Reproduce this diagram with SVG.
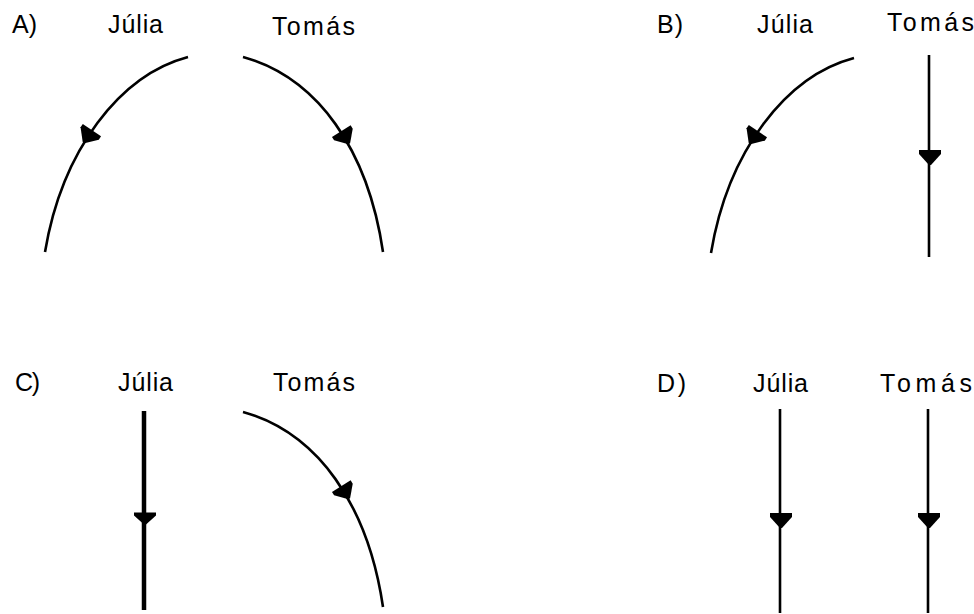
<svg xmlns="http://www.w3.org/2000/svg" xmlns:xlink="http://www.w3.org/1999/xlink" width="974" height="614" viewBox="0 0 974 614">
  <style>
    text { font-family: "Liberation Sans", Arial, sans-serif; font-size: 25px; fill: #000; }
    .path { fill: none; stroke: #000; stroke-width: 2.6; stroke-linecap: butt; }
    .thick { stroke-width: 4.5; }
    .head { fill: #000; stroke: none; }
  </style>
  <defs>
    <!-- downward-pointing arrowhead, centred on the trajectory point -->
    <path id="ah" d="M-11,-7 H11 V-3 L1,8 H-1 L-11,-3 Z"/>
    <!-- curved trajectory bending to the left (Júlia) -->
    <path id="arcL" d="M188,57 C120,75 62,150 45,252"/>
    <!-- curved trajectory bending to the right (Tomás) -->
    <path id="arcR" d="M243,57 C318,78 368,150 383,252"/>
  </defs>
  <rect width="974" height="614" fill="#fff"/>

  <!-- Option A: both curve away -->
  <g id="panelA">
    <text x="12" y="33" textLength="25" lengthAdjust="spacing">A)</text>
    <text x="108" y="33" textLength="55" lengthAdjust="spacing">Júlia</text>
    <text x="272" y="35" textLength="83" lengthAdjust="spacing">Tomás</text>
    <g id="trajA">
      <use xlink:href="#arcL" class="path"/>
      <use xlink:href="#ah" class="head" transform="translate(88,136) rotate(34)"/>
      <use xlink:href="#arcR" class="path"/>
      <use xlink:href="#ah" class="head" transform="translate(345,137) rotate(-32)"/>
    </g>
  </g>

  <!-- Option B: Júlia curves, Tomás straight -->
  <g id="panelB">
    <text x="657" y="33" textLength="26" lengthAdjust="spacing">B)</text>
    <text x="757" y="33" textLength="56" lengthAdjust="spacing">Júlia</text>
    <text x="887" y="31" textLength="87" lengthAdjust="spacing">Tomás</text>
    <g id="trajB">
      <use xlink:href="#arcL" class="path" transform="translate(666,1)"/>
      <use xlink:href="#ah" class="head" transform="translate(754,137) rotate(34)"/>
      <line class="path" x1="929" y1="55" x2="929" y2="257"/>
      <use xlink:href="#ah" class="head" transform="translate(930,157)"/>
    </g>
  </g>

  <!-- Option C: Júlia straight, Tomás curves -->
  <g id="panelC">
    <text x="15" y="391" textLength="25" lengthAdjust="spacing">C)</text>
    <text x="118" y="391" textLength="55" lengthAdjust="spacing">Júlia</text>
    <text x="273" y="391" textLength="82" lengthAdjust="spacing">Tomás</text>
    <g id="trajC">
      <line class="path thick" x1="144" y1="411" x2="144" y2="610"/>
      <use xlink:href="#ah" class="head" transform="translate(145,518) scale(1,0.8)"/>
      <use xlink:href="#arcR" class="path" transform="translate(0,355)"/>
      <use xlink:href="#ah" class="head" transform="translate(345,492) rotate(-32)"/>
    </g>
  </g>

  <!-- Option D: both straight -->
  <g id="panelD">
    <text x="657" y="392" textLength="29" lengthAdjust="spacing">D)</text>
    <text x="753" y="392" textLength="55" lengthAdjust="spacing">Júlia</text>
    <text x="880" y="392" textLength="92" lengthAdjust="spacing">Tomás</text>
    <g id="trajD">
      <line class="path" x1="780" y1="409" x2="780" y2="613"/>
      <use xlink:href="#ah" class="head" transform="translate(781,520)"/>
      <line class="path" x1="928" y1="409" x2="928" y2="613"/>
      <use xlink:href="#ah" class="head" transform="translate(929,520)"/>
    </g>
  </g>
</svg>
